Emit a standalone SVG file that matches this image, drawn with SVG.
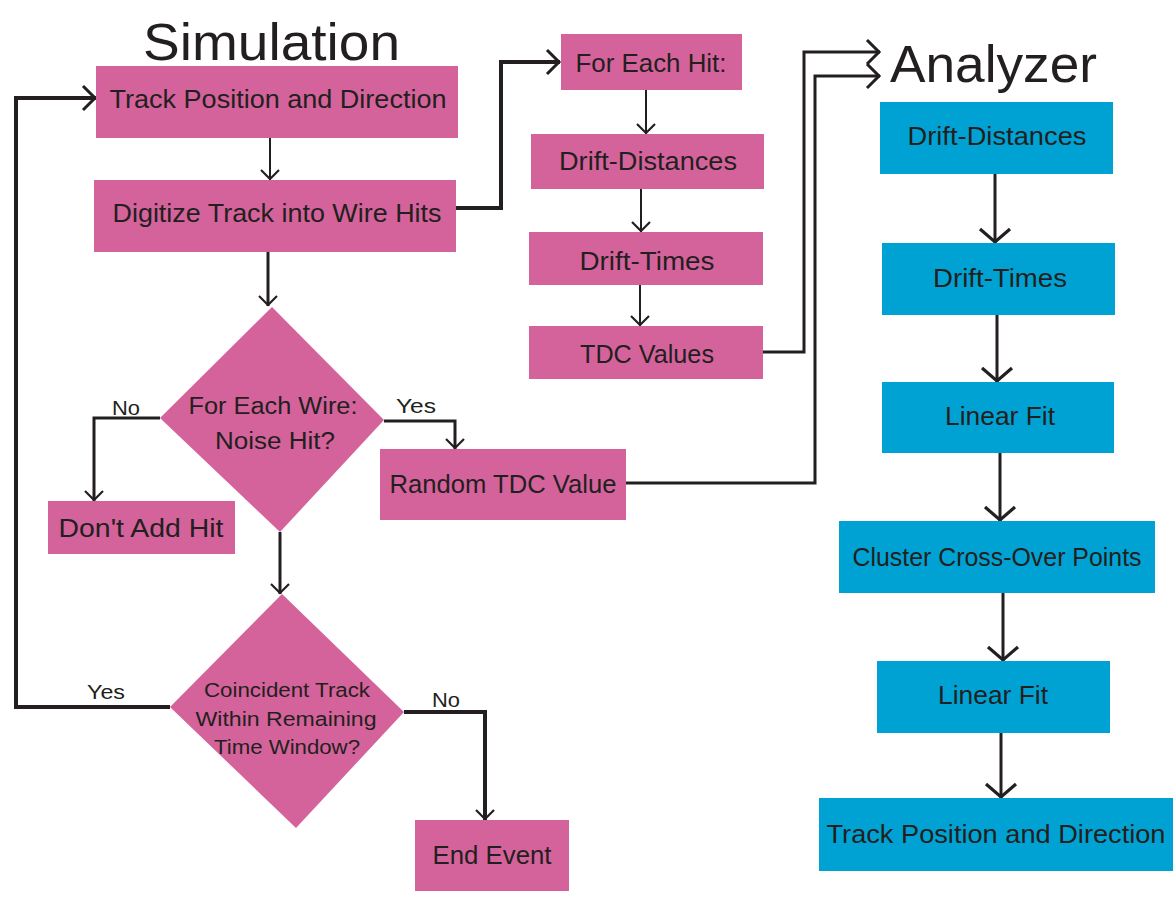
<svg xmlns="http://www.w3.org/2000/svg" width="1175" height="898" viewBox="0 0 1175 898">
<style>
.pk{fill:#d5639b;}
.bl{fill:#00a2d3;}
text{font-family:"Liberation Sans",Arial,sans-serif;fill:#231f20;}
.t{font-size:25px;text-anchor:middle;}
.d{font-size:23px;text-anchor:middle;}
.d2{font-size:20px;text-anchor:middle;}
.lb{font-size:20px;}
.ttl{font-size:52px;}
.c{fill:none;stroke:#231f20;stroke-linejoin:miter;}
.w2{stroke-width:2;}
.w3{stroke-width:3;}
.w4{stroke-width:4;}
</style>
<defs>
<marker id="ah" markerUnits="userSpaceOnUse" markerWidth="14" markerHeight="22" viewBox="0 0 14 22" refX="12" refY="11" orient="auto">
<path d="M2,2 L11,11 L2,20" fill="none" stroke="#231f20" stroke-width="2.2"/>
</marker>
<marker id="ahb" markerUnits="userSpaceOnUse" markerWidth="18" markerHeight="28" viewBox="0 0 18 28" refX="16" refY="14" orient="auto">
<path d="M3,2 L15,14 L3,26" fill="none" stroke="#231f20" stroke-width="3"/>
</marker>
<marker id="ahl" markerUnits="userSpaceOnUse" markerWidth="18" markerHeight="34" viewBox="0 0 18 34" refX="16" refY="17" orient="auto">
<path d="M2,2 L15,17 L2,32" fill="none" stroke="#231f20" stroke-width="3.2"/>
</marker>
</defs>

<text class="ttl" x="143" y="60" textLength="257" lengthAdjust="spacingAndGlyphs">Simulation</text>
<text class="ttl" x="890" y="82" textLength="207" lengthAdjust="spacingAndGlyphs">Analyzer</text>

<g id="connectors">
<path class="c w2" d="M270,138 V180" marker-end="url(#ah)"/>
<path class="c w3" d="M268,252 V306" marker-end="url(#ah)"/>
<path class="c w4" d="M456,208 H501 V62 H560" marker-end="url(#ahb)"/>
<path class="c w2" d="M646,90 V134" marker-end="url(#ah)"/>
<path class="c w2" d="M641,189 V232" marker-end="url(#ah)"/>
<path class="c w2" d="M640,285 V326" marker-end="url(#ah)"/>
<path class="c w3" d="M763,352 H804 V52 H880" marker-end="url(#ahb)"/>
<path class="c w3" d="M626,483 H815 V76 H880" marker-end="url(#ahb)"/>
<path class="c w3" d="M160,418 H94 V501" marker-end="url(#ah)"/>
<path class="c w3" d="M384,421 H455 V449" marker-end="url(#ah)"/>
<path class="c w3" d="M280,532 V594" marker-end="url(#ah)"/>
<path class="c w4" d="M170,707 H16 V98 H96" marker-end="url(#ahb)"/>
<path class="c w4" d="M404,712 H485 V820" marker-end="url(#ah)"/>
<path class="c w3" d="M995,174 V243" marker-end="url(#ahl)"/>
<path class="c w3" d="M997,315 V382" marker-end="url(#ahl)"/>
<path class="c w3" d="M1000,453 V521" marker-end="url(#ahl)"/>
<path class="c w3" d="M1003,593 V661" marker-end="url(#ahl)"/>
<path class="c w3" d="M1001,733 V798" marker-end="url(#ahl)"/>
</g>

<g id="track-pos">
<rect class="pk" x="96" y="66" width="362" height="72"/>
<text class="t" x="278" y="108" textLength="337" lengthAdjust="spacingAndGlyphs">Track Position and Direction</text>
</g>
<g id="digitize">
<rect class="pk" x="94" y="180" width="362" height="72"/>
<text class="t" x="277" y="222" textLength="329" lengthAdjust="spacingAndGlyphs">Digitize Track into Wire Hits</text>
</g>
<g id="for-each-hit">
<rect class="pk" x="561" y="34" width="181" height="56"/>
<text class="t" x="651" y="72" textLength="151" lengthAdjust="spacingAndGlyphs">For Each Hit:</text>
</g>
<g id="sim-drift-dist">
<rect class="pk" x="531" y="134" width="233" height="55"/>
<text class="t" x="648" y="170" textLength="178" lengthAdjust="spacingAndGlyphs">Drift-Distances</text>
</g>
<g id="sim-drift-times">
<rect class="pk" x="529" y="232" width="234" height="53"/>
<text class="t" x="647" y="270" textLength="135" lengthAdjust="spacingAndGlyphs">Drift-Times</text>
</g>
<g id="tdc-values">
<rect class="pk" x="529" y="326" width="234" height="53"/>
<text class="t" x="647" y="363" textLength="134" lengthAdjust="spacingAndGlyphs">TDC Values</text>
</g>
<g id="noise-hit">
<polygon class="pk" points="272,307 384,420 280,532 160,418"/>
<text class="d" x="273" y="414" textLength="169" lengthAdjust="spacingAndGlyphs">For Each Wire:</text>
<text class="d" x="275" y="449" textLength="120" lengthAdjust="spacingAndGlyphs">Noise Hit?</text>
</g>
<text class="lb" x="112" y="415" textLength="28" lengthAdjust="spacingAndGlyphs">No</text>
<text class="lb" x="396" y="413" textLength="40" lengthAdjust="spacingAndGlyphs">Yes</text>
<g id="dont-add">
<rect class="pk" x="48" y="501" width="187" height="53"/>
<text class="t" x="141" y="537" textLength="165" lengthAdjust="spacingAndGlyphs">Don't Add Hit</text>
</g>
<g id="random-tdc">
<rect class="pk" x="380" y="449" width="246" height="71"/>
<text class="t" x="503" y="493" textLength="227" lengthAdjust="spacingAndGlyphs">Random TDC Value</text>
</g>
<g id="coincident">
<polygon class="pk" points="282,594 404,712 296,828 170,707"/>
<text class="d2" x="287" y="697" textLength="166" lengthAdjust="spacingAndGlyphs">Coincident Track</text>
<text class="d2" x="286" y="726" textLength="181" lengthAdjust="spacingAndGlyphs">Within Remaining</text>
<text class="d2" x="287" y="754" textLength="146" lengthAdjust="spacingAndGlyphs">Time Window?</text>
</g>
<text class="lb" x="87" y="699" textLength="38" lengthAdjust="spacingAndGlyphs">Yes</text>
<text class="lb" x="432" y="707" textLength="28" lengthAdjust="spacingAndGlyphs">No</text>
<g id="end-event">
<rect class="pk" x="415" y="820" width="154" height="71"/>
<text class="t" x="492" y="864" textLength="119" lengthAdjust="spacingAndGlyphs">End Event</text>
</g>

<g id="ana-drift-dist">
<rect class="bl" x="880" y="102" width="233" height="72"/>
<text class="t" x="997" y="145" textLength="179" lengthAdjust="spacingAndGlyphs">Drift-Distances</text>
</g>
<g id="ana-drift-times">
<rect class="bl" x="882" y="243" width="233" height="72"/>
<text class="t" x="1000" y="287" textLength="134" lengthAdjust="spacingAndGlyphs">Drift-Times</text>
</g>
<g id="linear-fit-1">
<rect class="bl" x="882" y="382" width="232" height="71"/>
<text class="t" x="1000" y="425" textLength="110" lengthAdjust="spacingAndGlyphs">Linear Fit</text>
</g>
<g id="cluster">
<rect class="bl" x="839" y="521" width="316" height="72"/>
<text class="t" x="997" y="566" textLength="289" lengthAdjust="spacingAndGlyphs">Cluster Cross-Over Points</text>
</g>
<g id="linear-fit-2">
<rect class="bl" x="877" y="661" width="233" height="72"/>
<text class="t" x="993" y="704" textLength="110" lengthAdjust="spacingAndGlyphs">Linear Fit</text>
</g>
<g id="ana-track-pos">
<rect class="bl" x="819" y="798" width="354" height="73"/>
<text class="t" x="996" y="843" textLength="339" lengthAdjust="spacingAndGlyphs">Track Position and Direction</text>
</g>
</svg>
